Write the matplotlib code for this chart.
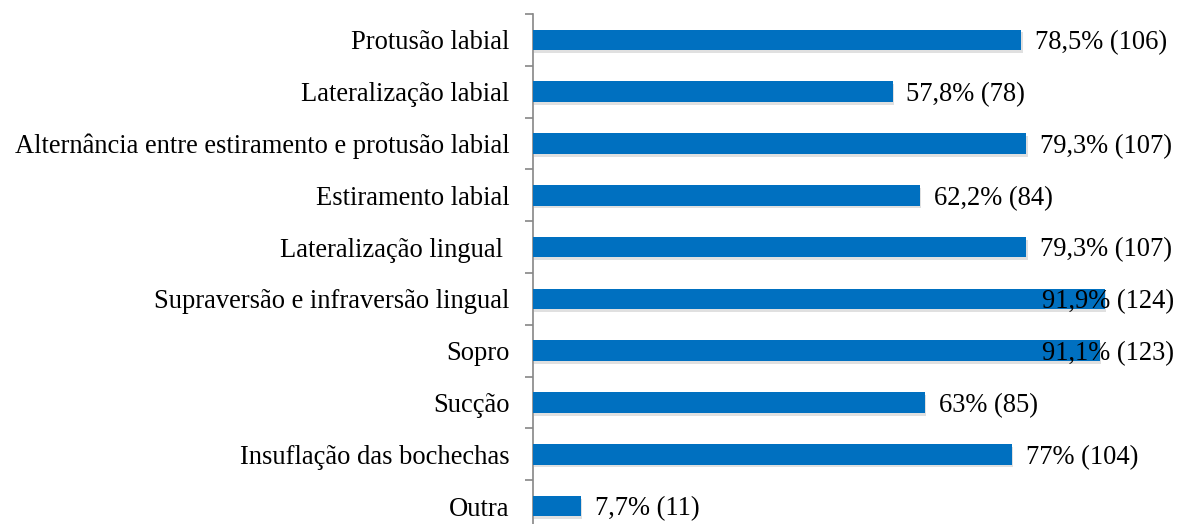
import matplotlib
matplotlib.use("Agg")
import matplotlib.pyplot as plt
import matplotlib.patheffects as pe
import numpy as np

# ── Data ───────────────────────────────────────────────────────────────────────
categories = [
    "Protusão labial",
    "Lateralização labial",
    "Alternância entre estiramento e protusão labial",
    "Estiramento labial",
    "Lateralização lingual ",
    "Supraversão e infraversão lingual",
    "Sopro",
    "Sucção",
    "Insuflação das bochechas",
    "Outra",
]
percents = [78.5, 57.8, 79.3, 62.2, 79.3, 91.9, 91.1, 63, 77, 7.7]
counts = [106, 78, 107, 84, 107, 124, 123, 85, 104, 11]

BAR_COLOR = "#0070C0"
AXIS_COLOR = "#868686"
W, H = 1178, 524
FS = 19.1

plt.rcParams["font.family"] = ["Liberation Serif", "DejaVu Serif"]

fig = plt.figure(figsize=(W / 100, H / 100), dpi=100)
# axes spans from the y spine (x=533px) and is cut at the bottom like the original
left, top, bottom_px, right = 533, 14, 532, 1155
ax = fig.add_axes([left / W, 1 - bottom_px / H, (right - left) / W, (bottom_px - top) / H])

y = np.arange(len(categories))
bars = ax.barh(y, percents, height=0.40, color=BAR_COLOR, zorder=3)
for b in bars:
    b.set_path_effects([pe.SimplePatchShadow(offset=(1, -2), shadow_rgbFace="#999999", alpha=0.3), pe.Normal()])

ax.set_xlim(0, 100)
ax.set_ylim(len(categories) - 0.5, -0.5)

for s in ["top", "right", "bottom"]:
    ax.spines[s].set_visible(False)
ax.spines["left"].set_color(AXIS_COLOR)
ax.spines["left"].set_linewidth(1.2)
ax.set_xticks([])

ax.set_yticks(y)
ax.set_yticklabels(categories, fontsize=FS)
ax.tick_params(axis="y", which="major", length=0, pad=17)
ax.set_yticks(np.arange(len(categories) + 1) - 0.5, minor=True)
ax.tick_params(axis="y", which="minor", length=5.5, width=1.2, color=AXIS_COLOR, direction="out")

# value labels, pushed back inside the figure when they overflow
labels = []
for yi, p, c in zip(y, percents, counts):
    txt = f"{p:g}".replace(".", ",") + f"% ({c})"
    t = ax.annotate(txt, xy=(p, yi), xytext=(10, 0), textcoords="offset points",
                    ha="left", va="center_baseline", fontsize=FS, color="black", zorder=4)
    labels.append(t)

fig.canvas.draw()
renderer = fig.canvas.get_renderer()
limit = 1174
for t in labels:
    bb = t.get_window_extent(renderer)
    if bb.x1 > limit:
        shift = (bb.x1 - limit) * 72 / fig.dpi
        ox, oy = t.xyann
        t.xyann = (ox - shift, oy)

fig.savefig("out.png", dpi=100)
